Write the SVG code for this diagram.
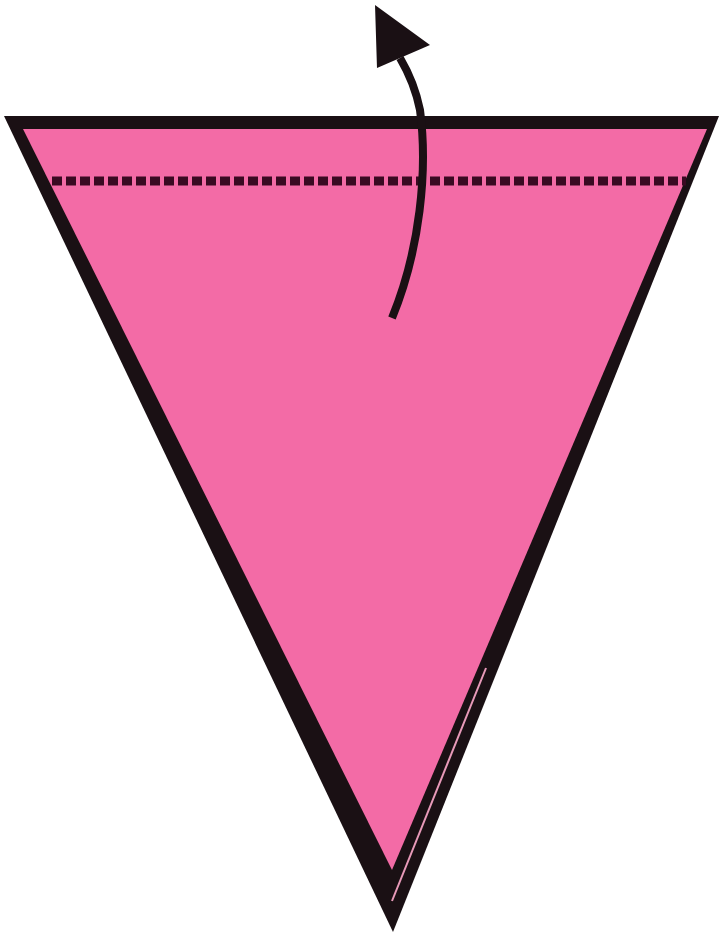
<svg xmlns="http://www.w3.org/2000/svg" width="721" height="935" viewBox="0 0 721 935">
<style>
.outer{fill:#1a1014}
.paper{fill:#f36ba6}
.fold{stroke:#3a0a22;stroke-width:9;stroke-dasharray:10 4;fill:none}
.arrow{stroke:#1a1014;stroke-width:8;fill:none;stroke-linecap:butt}
.layer{stroke:#e89ab9;stroke-width:2;fill:none}
</style>
<rect width="721" height="935" fill="#ffffff"/>
<g id="paper">
<polygon class="outer" points="4,116 719,116 393,932"/>
<polygon class="paper" points="23,129 707,129 392,870"/>
<line class="layer" x1="486" y1="668" x2="392" y2="901"/>
</g>
<g id="fold-line">
<line class="fold" x1="52" y1="181" x2="686" y2="181"/>
</g>
<g id="connectors">
<path class="arrow" d="M392,318 C420,250 428,170 420,110 C416,90 410,75 400,58"/>
<polygon points="375,5 377,68 430,45" fill="#1a1014"/>
</g>
</svg>
